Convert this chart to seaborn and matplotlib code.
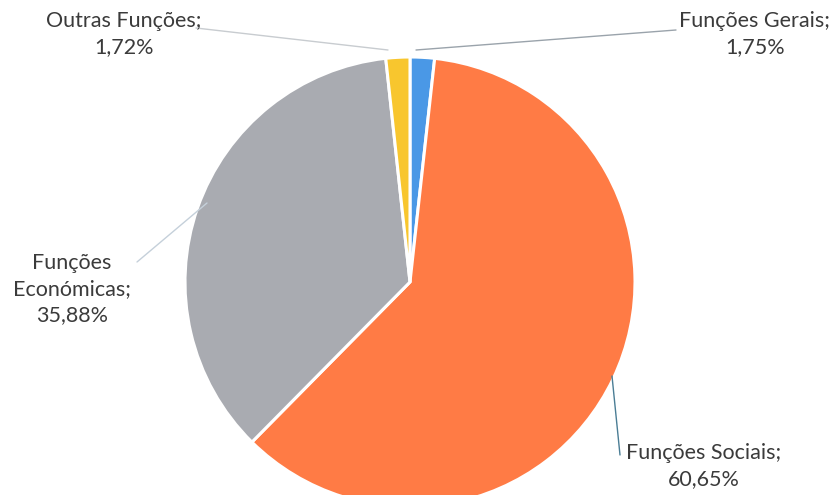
import matplotlib
matplotlib.use("Agg")
import matplotlib.pyplot as plt
import seaborn as sns

# data, clockwise from the top
categories = ["Funções Gerais", "Funções Sociais", "Funções\nEconómicas", "Outras Funções"]
shares = [1.75, 60.65, 35.88, 1.72]
colors = ["#4A98E6", "#FF7B45", "#A9ABB1", "#F8C62E"]

# pixel layout of the reference (834x495), pie centre and radius
W, H = 834, 495
CX, CY, R = 410, 282, 225


def px(x, y):
    return ((x - CX) / R, (CY - y) / R)


# label centre, leader start (near label), leader end (at pie)
label_pos = [(755, 34), (704, 466), (72, 289), (124, 34)]
line_from = [(676, 30), (620, 455), (137, 262), (196, 28)]
line_to = [(416, 50), (612, 376), (207, 203), (388, 50)]
line_col = ["#9aa3ab", "#4a7d95", "#c5d0da", "#c8ccd0"]

sns.set_theme(style="white")
plt.rcParams["font.family"] = ["Lato", "DejaVu Sans"]

fig = plt.figure(figsize=(W / 100, H / 100), dpi=100)
ax = fig.add_axes([0, 0, 1, 1])

ax.pie(shares, colors=colors, startangle=90, counterclock=False, radius=1,
       wedgeprops=dict(edgecolor="white", linewidth=2.2))

# pie() resets the limits, so set them afterwards
ax.set_xlim(-CX / R, (W - CX) / R)
ax.set_ylim(-(H - CY) / R, CY / R)
ax.set_axis_off()

for name, val, lp, a, b, lc in zip(categories, shares, label_pos, line_from, line_to, line_col):
    txt = f"{name};\n{val:.2f}%".replace(".", ",")
    ax.text(*px(*lp), txt, ha="center", va="center", fontsize=15.5,
            color="#3b3b3b", linespacing=1.4)
    ax.plot(*zip(px(*a), px(*b)), color=lc, lw=1.0)

fig.savefig("out.png", dpi=100)
plt.close(fig)
